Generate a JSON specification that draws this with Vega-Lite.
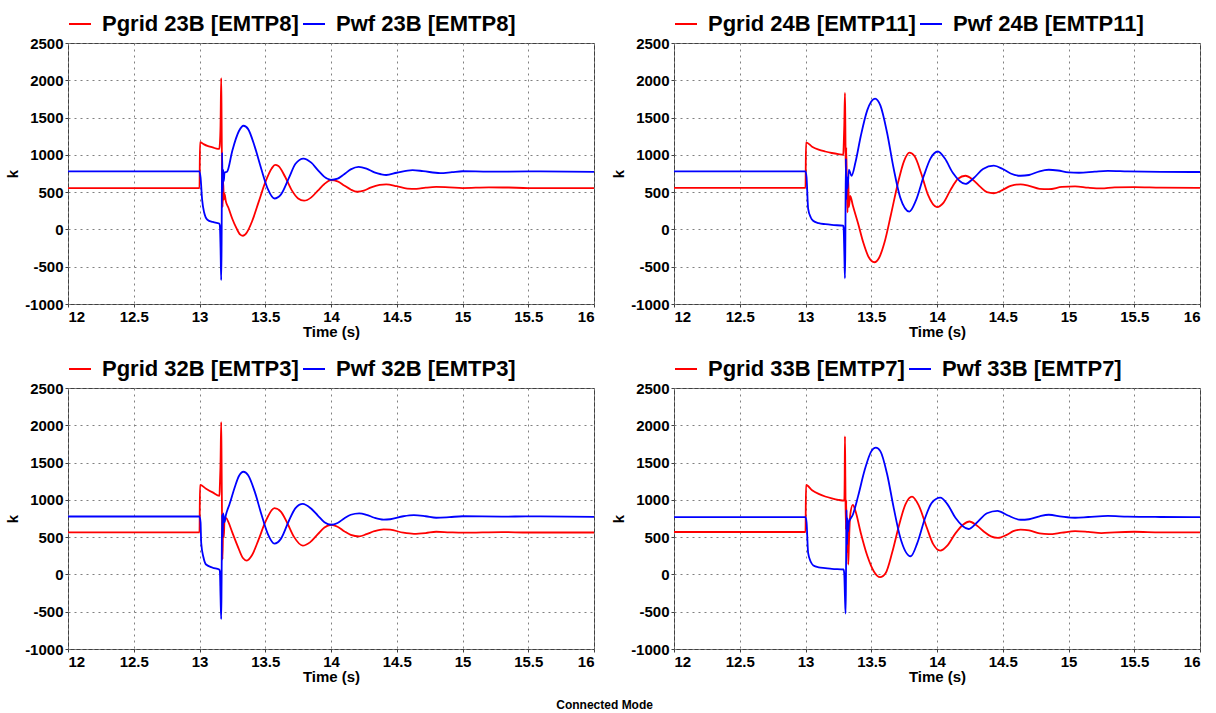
{
  "$schema": "https://vega.github.io/schema/vega-lite/v6.json",
  "padding": {"left": 5, "top": 11, "right": 5, "bottom": 5},
  "background": "white",
  "title": {"text": "Connected Mode", "orient": "bottom", "anchor": "middle", "fontSize": 12, "font": "Liberation Sans", "fontWeight": "bold", "offset": 15, "color": "black"},
  "config": {
    "view": {"stroke": "#404040", "strokeWidth": 1},
    "font": "Liberation Sans",
    "axis": {
      "domain": false,
      "labelFont": "Liberation Sans", "labelFontWeight": "bold", "labelFontSize": 15, "labelColor": "black",
      "titleFont": "Liberation Sans", "titleFontWeight": "bold", "titleFontSize": 15, "titleColor": "black",
      "tickColor": "#404040", "tickSize": 3,
      "gridColor": "#808080", "gridDash": [2, 4], "gridWidth": 1, "gridOpacity": 1
    },
    "axisX": {"labelExpr": "format(datum.value, '~g')", "labelPadding": 2, "titlePadding": 0},
    "axisY": {"labelExpr": "datum.value < 0 ? '-' + format(-datum.value, 'd') : format(datum.value, 'd')", "labelPadding": 2, "titlePadding": 4},
    "legend": {
      "orient": "top", "direction": "horizontal", "symbolType": "stroke", "symbolStrokeWidth": 2,
      "symbolSize": 484, "labelFont": "Liberation Sans", "labelFontSize": 22, "labelFontWeight": "bold",
      "labelColor": "black", "labelLimit": 0, "labelOffset": 10, "columnPadding": 0, "padding": 0, "offset": 8, "title": null
    }
  },
  "datasets": {
    "a": [
      {"s":"Pgrid","t":12,"v":555},{"s":"Pgrid","t":13.0,"v":555},{"s":"Pgrid","t":13.004,"v":1170},{"s":"Pgrid","t":13.03,"v":1145},{"s":"Pgrid","t":13.06,"v":1120},{"s":"Pgrid","t":13.1,"v":1100},{"s":"Pgrid","t":13.14,"v":1080},{"s":"Pgrid","t":13.15,"v":1080},{"s":"Pgrid","t":13.155,"v":1150},{"s":"Pgrid","t":13.16,"v":1400},{"s":"Pgrid","t":13.165,"v":2030},{"s":"Pgrid","t":13.168,"v":1500},{"s":"Pgrid","t":13.172,"v":600},{"s":"Pgrid","t":13.176,"v":300},{"s":"Pgrid","t":13.18,"v":650},{"s":"Pgrid","t":13.185,"v":400},{"s":"Pgrid","t":13.19,"v":480},{"s":"Pgrid","t":13.2,"v":380},{"s":"Pgrid","t":13.22,"v":290},{"s":"Pgrid","t":13.25,"v":140},{"s":"Pgrid","t":13.28,"v":20},{"s":"Pgrid","t":13.31,"v":-70},{"s":"Pgrid","t":13.33,"v":-85},{"s":"Pgrid","t":13.36,"v":-40},{"s":"Pgrid","t":13.4,"v":110},{"s":"Pgrid","t":13.45,"v":370},{"s":"Pgrid","t":13.5,"v":630},{"s":"Pgrid","t":13.55,"v":820},{"s":"Pgrid","t":13.575,"v":865},{"s":"Pgrid","t":13.6,"v":850},{"s":"Pgrid","t":13.65,"v":710},{"s":"Pgrid","t":13.7,"v":530},{"s":"Pgrid","t":13.75,"v":415},{"s":"Pgrid","t":13.795,"v":385},{"s":"Pgrid","t":13.85,"v":430},{"s":"Pgrid","t":13.9,"v":520},{"s":"Pgrid","t":13.95,"v":610},{"s":"Pgrid","t":14.0,"v":660},{"s":"Pgrid","t":14.05,"v":645},{"s":"Pgrid","t":14.1,"v":590},{"s":"Pgrid","t":14.15,"v":535},{"s":"Pgrid","t":14.2,"v":505},{"s":"Pgrid","t":14.25,"v":520},{"s":"Pgrid","t":14.3,"v":560},{"s":"Pgrid","t":14.37,"v":598},{"s":"Pgrid","t":14.42,"v":605},{"s":"Pgrid","t":14.5,"v":580},{"s":"Pgrid","t":14.58,"v":548},{"s":"Pgrid","t":14.65,"v":545},{"s":"Pgrid","t":14.72,"v":560},{"s":"Pgrid","t":14.8,"v":570},{"s":"Pgrid","t":14.9,"v":565},{"s":"Pgrid","t":15.0,"v":555},{"s":"Pgrid","t":15.2,"v":565},{"s":"Pgrid","t":15.35,"v":562},{"s":"Pgrid","t":15.5,"v":555},{"s":"Pgrid","t":16.0,"v":555},
      {"s":"Pwf","t":12,"v":778},{"s":"Pwf","t":13.0,"v":778},{"s":"Pwf","t":13.008,"v":700},{"s":"Pwf","t":13.02,"v":400},{"s":"Pwf","t":13.035,"v":230},{"s":"Pwf","t":13.06,"v":130},{"s":"Pwf","t":13.1,"v":100},{"s":"Pwf","t":13.145,"v":82},{"s":"Pwf","t":13.15,"v":80},{"s":"Pwf","t":13.155,"v":50},{"s":"Pwf","t":13.16,"v":-250},{"s":"Pwf","t":13.165,"v":-680},{"s":"Pwf","t":13.168,"v":-200},{"s":"Pwf","t":13.172,"v":1030},{"s":"Pwf","t":13.176,"v":500},{"s":"Pwf","t":13.18,"v":800},{"s":"Pwf","t":13.185,"v":650},{"s":"Pwf","t":13.19,"v":760},{"s":"Pwf","t":13.21,"v":775},{"s":"Pwf","t":13.25,"v":1060},{"s":"Pwf","t":13.3,"v":1320},{"s":"Pwf","t":13.335,"v":1390},{"s":"Pwf","t":13.37,"v":1345},{"s":"Pwf","t":13.42,"v":1110},{"s":"Pwf","t":13.47,"v":810},{"s":"Pwf","t":13.52,"v":540},{"s":"Pwf","t":13.57,"v":415},{"s":"Pwf","t":13.62,"v":470},{"s":"Pwf","t":13.68,"v":690},{"s":"Pwf","t":13.73,"v":880},{"s":"Pwf","t":13.79,"v":950},{"s":"Pwf","t":13.85,"v":895},{"s":"Pwf","t":13.9,"v":795},{"s":"Pwf","t":13.95,"v":705},{"s":"Pwf","t":14.0,"v":665},{"s":"Pwf","t":14.05,"v":680},{"s":"Pwf","t":14.1,"v":740},{"s":"Pwf","t":14.15,"v":805},{"s":"Pwf","t":14.21,"v":840},{"s":"Pwf","t":14.27,"v":815},{"s":"Pwf","t":14.33,"v":765},{"s":"Pwf","t":14.38,"v":740},{"s":"Pwf","t":14.42,"v":730},{"s":"Pwf","t":14.5,"v":760},{"s":"Pwf","t":14.62,"v":795},{"s":"Pwf","t":14.7,"v":782},{"s":"Pwf","t":14.83,"v":755},{"s":"Pwf","t":14.92,"v":768},{"s":"Pwf","t":15.0,"v":780},{"s":"Pwf","t":15.2,"v":775},{"s":"Pwf","t":15.5,"v":778},{"s":"Pwf","t":16.0,"v":772}
    ],
    "b": [
      {"s":"Pgrid","t":12,"v":556},{"s":"Pgrid","t":13.0,"v":556},{"s":"Pgrid","t":13.004,"v":1168},{"s":"Pgrid","t":13.05,"v":1110},{"s":"Pgrid","t":13.1,"v":1070},{"s":"Pgrid","t":13.15,"v":1045},{"s":"Pgrid","t":13.2,"v":1025},{"s":"Pgrid","t":13.25,"v":1010},{"s":"Pgrid","t":13.287,"v":1002},{"s":"Pgrid","t":13.29,"v":1100},{"s":"Pgrid","t":13.295,"v":1400},{"s":"Pgrid","t":13.3,"v":1830},{"s":"Pgrid","t":13.303,"v":1400},{"s":"Pgrid","t":13.307,"v":700},{"s":"Pgrid","t":13.31,"v":1100},{"s":"Pgrid","t":13.315,"v":500},{"s":"Pgrid","t":13.32,"v":230},{"s":"Pgrid","t":13.325,"v":700},{"s":"Pgrid","t":13.33,"v":300},{"s":"Pgrid","t":13.34,"v":450},{"s":"Pgrid","t":13.36,"v":320},{"s":"Pgrid","t":13.4,"v":80},{"s":"Pgrid","t":13.44,"v":-180},{"s":"Pgrid","t":13.48,"v":-370},{"s":"Pgrid","t":13.524,"v":-440},{"s":"Pgrid","t":13.56,"v":-380},{"s":"Pgrid","t":13.6,"v":-180},{"s":"Pgrid","t":13.65,"v":200},{"s":"Pgrid","t":13.7,"v":600},{"s":"Pgrid","t":13.75,"v":920},{"s":"Pgrid","t":13.79,"v":1030},{"s":"Pgrid","t":13.83,"v":980},{"s":"Pgrid","t":13.88,"v":750},{"s":"Pgrid","t":13.93,"v":470},{"s":"Pgrid","t":14.0,"v":300},{"s":"Pgrid","t":14.05,"v":360},{"s":"Pgrid","t":14.1,"v":520},{"s":"Pgrid","t":14.16,"v":680},{"s":"Pgrid","t":14.216,"v":720},{"s":"Pgrid","t":14.27,"v":670},{"s":"Pgrid","t":14.33,"v":570},{"s":"Pgrid","t":14.38,"v":500},{"s":"Pgrid","t":14.432,"v":485},{"s":"Pgrid","t":14.5,"v":530},{"s":"Pgrid","t":14.56,"v":585},{"s":"Pgrid","t":14.636,"v":605},{"s":"Pgrid","t":14.7,"v":585},{"s":"Pgrid","t":14.78,"v":545},{"s":"Pgrid","t":14.85,"v":540},{"s":"Pgrid","t":14.95,"v":570},{"s":"Pgrid","t":15.05,"v":578},{"s":"Pgrid","t":15.15,"v":560},{"s":"Pgrid","t":15.25,"v":550},{"s":"Pgrid","t":15.35,"v":565},{"s":"Pgrid","t":15.5,"v":568},{"s":"Pgrid","t":15.7,"v":560},{"s":"Pgrid","t":16.0,"v":556},
      {"s":"Pwf","t":12,"v":779},{"s":"Pwf","t":13.0,"v":779},{"s":"Pwf","t":13.008,"v":700},{"s":"Pwf","t":13.02,"v":280},{"s":"Pwf","t":13.04,"v":160},{"s":"Pwf","t":13.058,"v":117},{"s":"Pwf","t":13.1,"v":85},{"s":"Pwf","t":13.15,"v":70},{"s":"Pwf","t":13.2,"v":60},{"s":"Pwf","t":13.287,"v":50},{"s":"Pwf","t":13.29,"v":20},{"s":"Pwf","t":13.295,"v":-300},{"s":"Pwf","t":13.3,"v":-655},{"s":"Pwf","t":13.303,"v":-200},{"s":"Pwf","t":13.307,"v":950},{"s":"Pwf","t":13.31,"v":400},{"s":"Pwf","t":13.315,"v":700},{"s":"Pwf","t":13.32,"v":550},{"s":"Pwf","t":13.33,"v":800},{"s":"Pwf","t":13.35,"v":720},{"s":"Pwf","t":13.38,"v":900},{"s":"Pwf","t":13.42,"v":1250},{"s":"Pwf","t":13.47,"v":1600},{"s":"Pwf","t":13.529,"v":1755},{"s":"Pwf","t":13.57,"v":1660},{"s":"Pwf","t":13.62,"v":1300},{"s":"Pwf","t":13.67,"v":820},{"s":"Pwf","t":13.72,"v":430},{"s":"Pwf","t":13.79,"v":240},{"s":"Pwf","t":13.84,"v":390},{"s":"Pwf","t":13.9,"v":720},{"s":"Pwf","t":13.95,"v":950},{"s":"Pwf","t":14.006,"v":1045},{"s":"Pwf","t":14.06,"v":950},{"s":"Pwf","t":14.12,"v":760},{"s":"Pwf","t":14.216,"v":610},{"s":"Pwf","t":14.28,"v":690},{"s":"Pwf","t":14.35,"v":810},{"s":"Pwf","t":14.432,"v":855},{"s":"Pwf","t":14.5,"v":810},{"s":"Pwf","t":14.56,"v":750},{"s":"Pwf","t":14.636,"v":720},{"s":"Pwf","t":14.7,"v":730},{"s":"Pwf","t":14.78,"v":780},{"s":"Pwf","t":14.85,"v":800},{"s":"Pwf","t":14.92,"v":790},{"s":"Pwf","t":15.0,"v":765},{"s":"Pwf","t":15.08,"v":760},{"s":"Pwf","t":15.2,"v":775},{"s":"Pwf","t":15.3,"v":785},{"s":"Pwf","t":15.45,"v":778},{"s":"Pwf","t":15.7,"v":772},{"s":"Pwf","t":16.0,"v":770}
    ],
    "c": [
      {"s":"Pgrid","t":12,"v":564},{"s":"Pgrid","t":13.0,"v":564},{"s":"Pgrid","t":13.004,"v":1200},{"s":"Pgrid","t":13.05,"v":1150},{"s":"Pgrid","t":13.1,"v":1100},{"s":"Pgrid","t":13.152,"v":1053},{"s":"Pgrid","t":13.155,"v":1200},{"s":"Pgrid","t":13.16,"v":1500},{"s":"Pgrid","t":13.165,"v":2043},{"s":"Pgrid","t":13.168,"v":1500},{"s":"Pgrid","t":13.172,"v":600},{"s":"Pgrid","t":13.175,"v":200},{"s":"Pgrid","t":13.18,"v":700},{"s":"Pgrid","t":13.185,"v":500},{"s":"Pgrid","t":13.19,"v":720},{"s":"Pgrid","t":13.203,"v":756},{"s":"Pgrid","t":13.22,"v":700},{"s":"Pgrid","t":13.25,"v":560},{"s":"Pgrid","t":13.29,"v":380},{"s":"Pgrid","t":13.33,"v":220},{"s":"Pgrid","t":13.36,"v":186},{"s":"Pgrid","t":13.4,"v":260},{"s":"Pgrid","t":13.45,"v":470},{"s":"Pgrid","t":13.5,"v":700},{"s":"Pgrid","t":13.57,"v":889},{"s":"Pgrid","t":13.62,"v":840},{"s":"Pgrid","t":13.67,"v":680},{"s":"Pgrid","t":13.72,"v":500},{"s":"Pgrid","t":13.785,"v":386},{"s":"Pgrid","t":13.84,"v":430},{"s":"Pgrid","t":13.9,"v":540},{"s":"Pgrid","t":13.95,"v":630},{"s":"Pgrid","t":14.0,"v":666},{"s":"Pgrid","t":14.05,"v":640},{"s":"Pgrid","t":14.1,"v":580},{"s":"Pgrid","t":14.15,"v":530},{"s":"Pgrid","t":14.215,"v":510},{"s":"Pgrid","t":14.27,"v":540},{"s":"Pgrid","t":14.33,"v":580},{"s":"Pgrid","t":14.4,"v":605},{"s":"Pgrid","t":14.45,"v":600},{"s":"Pgrid","t":14.55,"v":560},{"s":"Pgrid","t":14.63,"v":545},{"s":"Pgrid","t":14.72,"v":555},{"s":"Pgrid","t":14.8,"v":572},{"s":"Pgrid","t":14.9,"v":565},{"s":"Pgrid","t":15.0,"v":560},{"s":"Pgrid","t":15.3,"v":568},{"s":"Pgrid","t":15.5,"v":562},{"s":"Pgrid","t":16.0,"v":562},
      {"s":"Pwf","t":12,"v":777},{"s":"Pwf","t":13.0,"v":777},{"s":"Pwf","t":13.008,"v":700},{"s":"Pwf","t":13.013,"v":422},{"s":"Pwf","t":13.03,"v":230},{"s":"Pwf","t":13.05,"v":133},{"s":"Pwf","t":13.1,"v":90},{"s":"Pwf","t":13.15,"v":66},{"s":"Pwf","t":13.155,"v":40},{"s":"Pwf","t":13.16,"v":-300},{"s":"Pwf","t":13.165,"v":-600},{"s":"Pwf","t":13.168,"v":-100},{"s":"Pwf","t":13.172,"v":800},{"s":"Pwf","t":13.176,"v":500},{"s":"Pwf","t":13.18,"v":820},{"s":"Pwf","t":13.19,"v":700},{"s":"Pwf","t":13.2,"v":790},{"s":"Pwf","t":13.23,"v":950},{"s":"Pwf","t":13.27,"v":1180},{"s":"Pwf","t":13.3,"v":1320},{"s":"Pwf","t":13.334,"v":1377},{"s":"Pwf","t":13.37,"v":1330},{"s":"Pwf","t":13.42,"v":1110},{"s":"Pwf","t":13.47,"v":810},{"s":"Pwf","t":13.52,"v":540},{"s":"Pwf","t":13.57,"v":413},{"s":"Pwf","t":13.62,"v":480},{"s":"Pwf","t":13.68,"v":720},{"s":"Pwf","t":13.73,"v":890},{"s":"Pwf","t":13.785,"v":946},{"s":"Pwf","t":13.85,"v":880},{"s":"Pwf","t":13.9,"v":790},{"s":"Pwf","t":13.95,"v":700},{"s":"Pwf","t":14.0,"v":666},{"s":"Pwf","t":14.05,"v":690},{"s":"Pwf","t":14.1,"v":750},{"s":"Pwf","t":14.15,"v":800},{"s":"Pwf","t":14.215,"v":820},{"s":"Pwf","t":14.27,"v":800},{"s":"Pwf","t":14.33,"v":760},{"s":"Pwf","t":14.4,"v":735},{"s":"Pwf","t":14.45,"v":740},{"s":"Pwf","t":14.55,"v":780},{"s":"Pwf","t":14.63,"v":795},{"s":"Pwf","t":14.72,"v":780},{"s":"Pwf","t":14.8,"v":760},{"s":"Pwf","t":14.9,"v":768},{"s":"Pwf","t":15.0,"v":780},{"s":"Pwf","t":15.3,"v":775},{"s":"Pwf","t":15.5,"v":778},{"s":"Pwf","t":16.0,"v":772}
    ],
    "d": [
      {"s":"Pgrid","t":12,"v":569},{"s":"Pgrid","t":13.0,"v":569},{"s":"Pgrid","t":13.004,"v":1200},{"s":"Pgrid","t":13.05,"v":1130},{"s":"Pgrid","t":13.1,"v":1080},{"s":"Pgrid","t":13.15,"v":1045},{"s":"Pgrid","t":13.2,"v":1020},{"s":"Pgrid","t":13.25,"v":1000},{"s":"Pgrid","t":13.295,"v":990},{"s":"Pgrid","t":13.298,"v":1300},{"s":"Pgrid","t":13.3,"v":1850},{"s":"Pgrid","t":13.303,"v":1300},{"s":"Pgrid","t":13.307,"v":600},{"s":"Pgrid","t":13.31,"v":1000},{"s":"Pgrid","t":13.315,"v":300},{"s":"Pgrid","t":13.32,"v":700},{"s":"Pgrid","t":13.325,"v":133},{"s":"Pgrid","t":13.33,"v":400},{"s":"Pgrid","t":13.34,"v":800},{"s":"Pgrid","t":13.36,"v":933},{"s":"Pgrid","t":13.38,"v":850},{"s":"Pgrid","t":13.42,"v":560},{"s":"Pgrid","t":13.47,"v":250},{"s":"Pgrid","t":13.52,"v":40},{"s":"Pgrid","t":13.567,"v":-36},{"s":"Pgrid","t":13.61,"v":20},{"s":"Pgrid","t":13.66,"v":300},{"s":"Pgrid","t":13.71,"v":650},{"s":"Pgrid","t":13.76,"v":940},{"s":"Pgrid","t":13.81,"v":1044},{"s":"Pgrid","t":13.86,"v":930},{"s":"Pgrid","t":13.92,"v":640},{"s":"Pgrid","t":13.97,"v":410},{"s":"Pgrid","t":14.025,"v":320},{"s":"Pgrid","t":14.08,"v":390},{"s":"Pgrid","t":14.14,"v":550},{"s":"Pgrid","t":14.2,"v":670},{"s":"Pgrid","t":14.247,"v":710},{"s":"Pgrid","t":14.3,"v":660},{"s":"Pgrid","t":14.36,"v":570},{"s":"Pgrid","t":14.41,"v":510},{"s":"Pgrid","t":14.463,"v":489},{"s":"Pgrid","t":14.53,"v":530},{"s":"Pgrid","t":14.58,"v":580},{"s":"Pgrid","t":14.636,"v":600},{"s":"Pgrid","t":14.7,"v":590},{"s":"Pgrid","t":14.78,"v":550},{"s":"Pgrid","t":14.85,"v":540},{"s":"Pgrid","t":14.95,"v":560},{"s":"Pgrid","t":15.05,"v":580},{"s":"Pgrid","t":15.15,"v":570},{"s":"Pgrid","t":15.25,"v":555},{"s":"Pgrid","t":15.35,"v":565},{"s":"Pgrid","t":15.5,"v":572},{"s":"Pgrid","t":15.7,"v":565},{"s":"Pgrid","t":16.0,"v":565},
      {"s":"Pwf","t":12,"v":769},{"s":"Pwf","t":13.0,"v":769},{"s":"Pwf","t":13.008,"v":700},{"s":"Pwf","t":13.02,"v":289},{"s":"Pwf","t":13.04,"v":170},{"s":"Pwf","t":13.06,"v":120},{"s":"Pwf","t":13.1,"v":95},{"s":"Pwf","t":13.15,"v":85},{"s":"Pwf","t":13.2,"v":75},{"s":"Pwf","t":13.29,"v":66},{"s":"Pwf","t":13.295,"v":0},{"s":"Pwf","t":13.3,"v":-300},{"s":"Pwf","t":13.305,"v":-524},{"s":"Pwf","t":13.308,"v":0},{"s":"Pwf","t":13.312,"v":866},{"s":"Pwf","t":13.316,"v":400},{"s":"Pwf","t":13.32,"v":750},{"s":"Pwf","t":13.325,"v":577},{"s":"Pwf","t":13.33,"v":700},{"s":"Pwf","t":13.36,"v":800},{"s":"Pwf","t":13.4,"v":1050},{"s":"Pwf","t":13.45,"v":1400},{"s":"Pwf","t":13.5,"v":1650},{"s":"Pwf","t":13.535,"v":1700},{"s":"Pwf","t":13.57,"v":1650},{"s":"Pwf","t":13.62,"v":1350},{"s":"Pwf","t":13.67,"v":900},{"s":"Pwf","t":13.72,"v":500},{"s":"Pwf","t":13.8,"v":244},{"s":"Pwf","t":13.85,"v":420},{"s":"Pwf","t":13.91,"v":760},{"s":"Pwf","t":13.96,"v":960},{"s":"Pwf","t":14.025,"v":1030},{"s":"Pwf","t":14.08,"v":940},{"s":"Pwf","t":14.14,"v":760},{"s":"Pwf","t":14.24,"v":609},{"s":"Pwf","t":14.3,"v":690},{"s":"Pwf","t":14.38,"v":820},{"s":"Pwf","t":14.46,"v":853},{"s":"Pwf","t":14.54,"v":790},{"s":"Pwf","t":14.636,"v":733},{"s":"Pwf","t":14.7,"v":740},{"s":"Pwf","t":14.78,"v":780},{"s":"Pwf","t":14.85,"v":800},{"s":"Pwf","t":14.95,"v":775},{"s":"Pwf","t":15.05,"v":760},{"s":"Pwf","t":15.15,"v":770},{"s":"Pwf","t":15.3,"v":785},{"s":"Pwf","t":15.45,"v":775},{"s":"Pwf","t":15.7,"v":770},{"s":"Pwf","t":16.0,"v":768}
    ]
  },
  "columns": 2,
  "spacing": {"row": 16, "column": 12},
  "resolve": {"scale": {"color": "independent"}},
  "concat": [
    {
      "width": 526, "height": 261,
      "data": {"name": "a"},
      "mark": {"type": "line", "strokeWidth": 1.8, "interpolate": "monotone"},
      "encoding": {
        "x": {"field": "t", "type": "quantitative", "scale": {"domain": [12, 16], "nice": false, "zero": false}, "axis": {"values": [12, 12.5, 13, 13.5, 14, 14.5, 15, 15.5, 16], "title": "Time (s)"}},
        "y": {"field": "v", "type": "quantitative", "scale": {"domain": [-1000, 2500], "nice": false}, "axis": {"values": [-1000, -500, 0, 500, 1000, 1500, 2000, 2500], "title": "k"}},
        "color": {"field": "s", "type": "nominal", "scale": {"domain": ["Pgrid", "Pwf"], "range": ["#ff0000", "#0000ff"]}, "legend": {"labelExpr": "datum.label == 'Pgrid' ? 'Pgrid 23B [EMTP8]' : 'Pwf 23B [EMTP8]'"}}
      }
    },
    {
      "width": 526, "height": 261,
      "data": {"name": "b"},
      "mark": {"type": "line", "strokeWidth": 1.8, "interpolate": "monotone"},
      "encoding": {
        "x": {"field": "t", "type": "quantitative", "scale": {"domain": [12, 16], "nice": false, "zero": false}, "axis": {"values": [12, 12.5, 13, 13.5, 14, 14.5, 15, 15.5, 16], "title": "Time (s)"}},
        "y": {"field": "v", "type": "quantitative", "scale": {"domain": [-1000, 2500], "nice": false}, "axis": {"values": [-1000, -500, 0, 500, 1000, 1500, 2000, 2500], "title": "k"}},
        "color": {"field": "s", "type": "nominal", "scale": {"domain": ["Pgrid", "Pwf"], "range": ["#ff0000", "#0000ff"]}, "legend": {"labelExpr": "datum.label == 'Pgrid' ? 'Pgrid 24B [EMTP11]' : 'Pwf 24B [EMTP11]'"}}
      }
    },
    {
      "width": 526, "height": 261,
      "data": {"name": "c"},
      "mark": {"type": "line", "strokeWidth": 1.8, "interpolate": "monotone"},
      "encoding": {
        "x": {"field": "t", "type": "quantitative", "scale": {"domain": [12, 16], "nice": false, "zero": false}, "axis": {"values": [12, 12.5, 13, 13.5, 14, 14.5, 15, 15.5, 16], "title": "Time (s)"}},
        "y": {"field": "v", "type": "quantitative", "scale": {"domain": [-1000, 2500], "nice": false}, "axis": {"values": [-1000, -500, 0, 500, 1000, 1500, 2000, 2500], "title": "k"}},
        "color": {"field": "s", "type": "nominal", "scale": {"domain": ["Pgrid", "Pwf"], "range": ["#ff0000", "#0000ff"]}, "legend": {"labelExpr": "datum.label == 'Pgrid' ? 'Pgrid 32B [EMTP3]' : 'Pwf 32B [EMTP3]'"}}
      }
    },
    {
      "width": 526, "height": 261,
      "data": {"name": "d"},
      "mark": {"type": "line", "strokeWidth": 1.8, "interpolate": "monotone"},
      "encoding": {
        "x": {"field": "t", "type": "quantitative", "scale": {"domain": [12, 16], "nice": false, "zero": false}, "axis": {"values": [12, 12.5, 13, 13.5, 14, 14.5, 15, 15.5, 16], "title": "Time (s)"}},
        "y": {"field": "v", "type": "quantitative", "scale": {"domain": [-1000, 2500], "nice": false}, "axis": {"values": [-1000, -500, 0, 500, 1000, 1500, 2000, 2500], "title": "k"}},
        "color": {"field": "s", "type": "nominal", "scale": {"domain": ["Pgrid", "Pwf"], "range": ["#ff0000", "#0000ff"]}, "legend": {"labelExpr": "datum.label == 'Pgrid' ? 'Pgrid 33B [EMTP7]' : 'Pwf 33B [EMTP7]'"}}
      }
    }
  ]
}
